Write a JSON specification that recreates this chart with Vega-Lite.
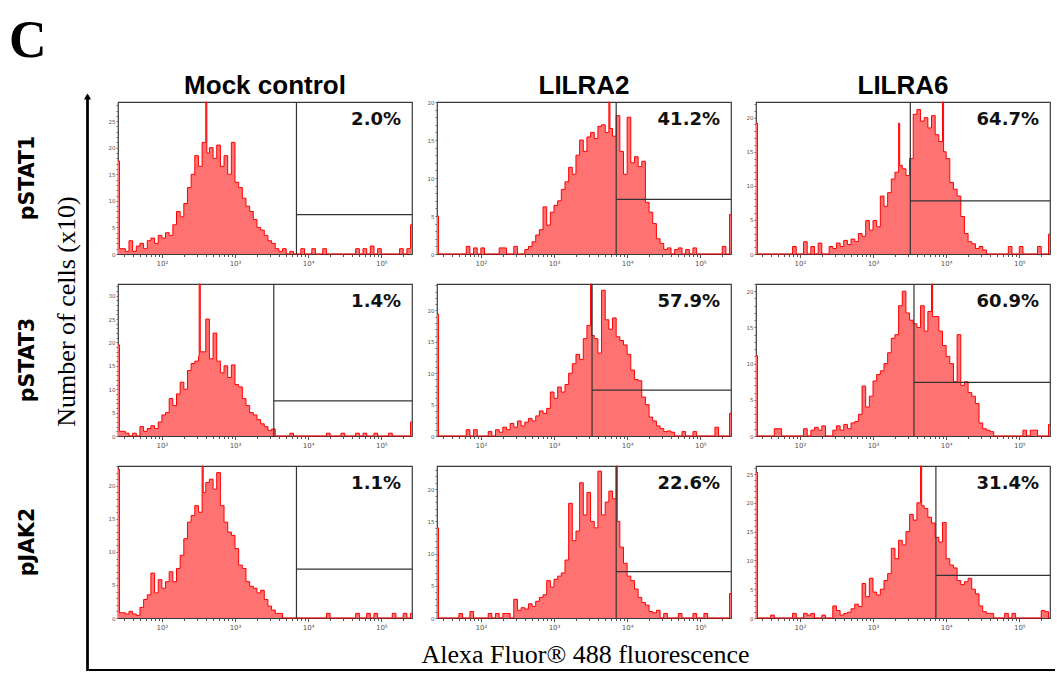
{
  "$schema": "https://vega.github.io/schema/vega-lite/v6.json",
  "background": "white",
  "padding": {"left": 9, "top": 15, "right": 1, "bottom": 1},
  "title": {"text": "C", "anchor": "start", "font": "Liberation Serif", "fontSize": 52, "fontWeight": "bold", "color": "black", "dx": -8, "offset": 5},
  "config": {
    "font": "DejaVu Sans",
    "view": {"stroke": "#3a3a3a", "strokeWidth": 1.2},
    "axis": {"grid": false, "domain": false}
  },
  "spacing": -4,
  "hconcat": [
    {
      "width": 1,
      "height": 569,
      "view": {"stroke": null},
      "data": {"values": [{"marker": "pSTAT1"}, {"marker": "pSTAT3"}, {"marker": "pJAK2"}]},
      "resolve": {"scale": {"y": "independent"}},
      "layer": [
        {
          "mark": {"type": "point", "opacity": 0},
          "encoding": {
            "y": {
              "field": "marker", "type": "nominal", "sort": ["pSTAT1", "pSTAT3", "pJAK2"],
              "scale": {"type": "band", "paddingInner": 0.165, "paddingOuter": 0.1456, "align": 0},
              "axis": {
                "orient": "left", "domain": false,
                "ticks": false, "tickSize": 0, "labelPadding": 60, "labelAngle": -90,
                "labelAlign": "center", "labelBaseline": "middle", "labelFont": "DejaVu Sans",
                "labelFontSize": 20.5, "labelFontWeight": "bold", "labelColor": "black",
                "title": "Number of cells (x10)", "titleFont": "Liberation Serif", "titleFontSize": 26,
                "titleFontWeight": "normal", "titleColor": "black", "titleX": -21, "titleY": 209,
                "titleAngle": -90, "titleAlign": "center", "titleBaseline": "middle"
              }
            }
          }
        },
        {
          "mark": {"type": "rule", "color": "black", "strokeWidth": 2, "clip": false},
          "encoding": {
            "y": {"datum": 1.0088, "type": "quantitative", "scale": {"domain": [0, 1], "nice": false}, "axis": null},
            "y2": {"datum": 0}
          }
        },
        {
          "mark": {"type": "point", "shape": "triangle-up", "filled": true, "color": "black", "size": 40, "opacity": 1, "clip": false},
          "encoding": {
            "y": {"datum": 1.0095, "type": "quantitative", "scale": {"domain": [0, 1], "nice": false}, "axis": null}
          }
        }
      ]
    },
    {
      "spacing": 9,
      "vconcat": [
        {
          "bounds": "flush",
          "spacing": {"row": 30, "column": 25},
          "data": {"values": [
            {"marker":"pSTAT1","group":"Mock control","log":1.40,"count":17.5},
            {"marker":"pSTAT1","group":"Mock control","log":1.42,"count":1},
            {"marker":"pSTAT1","group":"Mock control","log":1.50,"count":0.5},
            {"marker":"pSTAT1","group":"Mock control","log":1.55,"count":2.5},
            {"marker":"pSTAT1","group":"Mock control","log":1.60,"count":0.5},
            {"marker":"pSTAT1","group":"Mock control","log":1.65,"count":1.5},
            {"marker":"pSTAT1","group":"Mock control","log":1.70,"count":2},
            {"marker":"pSTAT1","group":"Mock control","log":1.75,"count":1},
            {"marker":"pSTAT1","group":"Mock control","log":1.80,"count":2.5},
            {"marker":"pSTAT1","group":"Mock control","log":1.85,"count":3},
            {"marker":"pSTAT1","group":"Mock control","log":1.90,"count":2},
            {"marker":"pSTAT1","group":"Mock control","log":1.95,"count":3.5},
            {"marker":"pSTAT1","group":"Mock control","log":2.00,"count":3},
            {"marker":"pSTAT1","group":"Mock control","log":2.05,"count":4},
            {"marker":"pSTAT1","group":"Mock control","log":2.10,"count":3.5},
            {"marker":"pSTAT1","group":"Mock control","log":2.15,"count":5.5},
            {"marker":"pSTAT1","group":"Mock control","log":2.20,"count":8},
            {"marker":"pSTAT1","group":"Mock control","log":2.25,"count":7},
            {"marker":"pSTAT1","group":"Mock control","log":2.30,"count":9.5},
            {"marker":"pSTAT1","group":"Mock control","log":2.35,"count":12.5},
            {"marker":"pSTAT1","group":"Mock control","log":2.40,"count":15},
            {"marker":"pSTAT1","group":"Mock control","log":2.45,"count":18.5},
            {"marker":"pSTAT1","group":"Mock control","log":2.50,"count":16.5},
            {"marker":"pSTAT1","group":"Mock control","log":2.55,"count":21},
            {"marker":"pSTAT1","group":"Mock control","log":2.60,"count":28.6},
            {"marker":"pSTAT1","group":"Mock control","log":2.615,"count":19},
            {"marker":"pSTAT1","group":"Mock control","log":2.65,"count":20},
            {"marker":"pSTAT1","group":"Mock control","log":2.70,"count":18},
            {"marker":"pSTAT1","group":"Mock control","log":2.75,"count":20.5},
            {"marker":"pSTAT1","group":"Mock control","log":2.80,"count":16.5},
            {"marker":"pSTAT1","group":"Mock control","log":2.85,"count":18.5},
            {"marker":"pSTAT1","group":"Mock control","log":2.90,"count":15},
            {"marker":"pSTAT1","group":"Mock control","log":2.95,"count":21},
            {"marker":"pSTAT1","group":"Mock control","log":3.00,"count":13.5},
            {"marker":"pSTAT1","group":"Mock control","log":3.05,"count":12.5},
            {"marker":"pSTAT1","group":"Mock control","log":3.10,"count":10.5},
            {"marker":"pSTAT1","group":"Mock control","log":3.15,"count":9},
            {"marker":"pSTAT1","group":"Mock control","log":3.20,"count":8},
            {"marker":"pSTAT1","group":"Mock control","log":3.25,"count":6.5},
            {"marker":"pSTAT1","group":"Mock control","log":3.30,"count":5},
            {"marker":"pSTAT1","group":"Mock control","log":3.35,"count":4.5},
            {"marker":"pSTAT1","group":"Mock control","log":3.40,"count":3.5},
            {"marker":"pSTAT1","group":"Mock control","log":3.45,"count":2.5},
            {"marker":"pSTAT1","group":"Mock control","log":3.50,"count":2},
            {"marker":"pSTAT1","group":"Mock control","log":3.55,"count":1},
            {"marker":"pSTAT1","group":"Mock control","log":3.60,"count":0.5},
            {"marker":"pSTAT1","group":"Mock control","log":3.65,"count":1},
            {"marker":"pSTAT1","group":"Mock control","log":3.70,"count":0},
            {"marker":"pSTAT1","group":"Mock control","log":3.75,"count":0.5},
            {"marker":"pSTAT1","group":"Mock control","log":3.80,"count":0},
            {"marker":"pSTAT1","group":"Mock control","log":3.90,"count":1},
            {"marker":"pSTAT1","group":"Mock control","log":3.95,"count":0},
            {"marker":"pSTAT1","group":"Mock control","log":4.05,"count":1},
            {"marker":"pSTAT1","group":"Mock control","log":4.10,"count":0},
            {"marker":"pSTAT1","group":"Mock control","log":4.20,"count":1},
            {"marker":"pSTAT1","group":"Mock control","log":4.25,"count":0},
            {"marker":"pSTAT1","group":"Mock control","log":4.65,"count":1},
            {"marker":"pSTAT1","group":"Mock control","log":4.70,"count":0},
            {"marker":"pSTAT1","group":"Mock control","log":4.75,"count":1},
            {"marker":"pSTAT1","group":"Mock control","log":4.80,"count":0},
            {"marker":"pSTAT1","group":"Mock control","log":4.85,"count":1.5},
            {"marker":"pSTAT1","group":"Mock control","log":4.90,"count":0},
            {"marker":"pSTAT1","group":"Mock control","log":4.95,"count":1},
            {"marker":"pSTAT1","group":"Mock control","log":5.00,"count":0},
            {"marker":"pSTAT1","group":"Mock control","log":5.25,"count":1},
            {"marker":"pSTAT1","group":"Mock control","log":5.30,"count":0},
            {"marker":"pSTAT1","group":"Mock control","log":5.35,"count":1},
            {"marker":"pSTAT1","group":"Mock control","log":5.40,"count":5.5},
            {"marker":"pSTAT1","group":"Mock control","log":5.42,"count":5.5},

            {"marker":"pSTAT1","group":"LILRA2","log":1.40,"count":5},
            {"marker":"pSTAT1","group":"LILRA2","log":1.42,"count":0},
            {"marker":"pSTAT1","group":"LILRA2","log":1.80,"count":1},
            {"marker":"pSTAT1","group":"LILRA2","log":1.85,"count":0},
            {"marker":"pSTAT1","group":"LILRA2","log":1.90,"count":0.8},
            {"marker":"pSTAT1","group":"LILRA2","log":1.95,"count":0},
            {"marker":"pSTAT1","group":"LILRA2","log":2.00,"count":0.8},
            {"marker":"pSTAT1","group":"LILRA2","log":2.05,"count":0},
            {"marker":"pSTAT1","group":"LILRA2","log":2.25,"count":0.8},
            {"marker":"pSTAT1","group":"LILRA2","log":2.30,"count":0.8},
            {"marker":"pSTAT1","group":"LILRA2","log":2.35,"count":0},
            {"marker":"pSTAT1","group":"LILRA2","log":2.45,"count":1},
            {"marker":"pSTAT1","group":"LILRA2","log":2.50,"count":0},
            {"marker":"pSTAT1","group":"LILRA2","log":2.60,"count":0.6},
            {"marker":"pSTAT1","group":"LILRA2","log":2.65,"count":1},
            {"marker":"pSTAT1","group":"LILRA2","log":2.70,"count":1.6},
            {"marker":"pSTAT1","group":"LILRA2","log":2.75,"count":2.5},
            {"marker":"pSTAT1","group":"LILRA2","log":2.80,"count":3.2},
            {"marker":"pSTAT1","group":"LILRA2","log":2.85,"count":6.2},
            {"marker":"pSTAT1","group":"LILRA2","log":2.90,"count":3.8},
            {"marker":"pSTAT1","group":"LILRA2","log":2.95,"count":5.5},
            {"marker":"pSTAT1","group":"LILRA2","log":3.00,"count":6.4},
            {"marker":"pSTAT1","group":"LILRA2","log":3.05,"count":7},
            {"marker":"pSTAT1","group":"LILRA2","log":3.10,"count":8.5},
            {"marker":"pSTAT1","group":"LILRA2","log":3.15,"count":9.5},
            {"marker":"pSTAT1","group":"LILRA2","log":3.20,"count":11.4},
            {"marker":"pSTAT1","group":"LILRA2","log":3.25,"count":10.5},
            {"marker":"pSTAT1","group":"LILRA2","log":3.30,"count":13},
            {"marker":"pSTAT1","group":"LILRA2","log":3.35,"count":15},
            {"marker":"pSTAT1","group":"LILRA2","log":3.40,"count":13.5},
            {"marker":"pSTAT1","group":"LILRA2","log":3.45,"count":15.4},
            {"marker":"pSTAT1","group":"LILRA2","log":3.50,"count":16},
            {"marker":"pSTAT1","group":"LILRA2","log":3.55,"count":15.2},
            {"marker":"pSTAT1","group":"LILRA2","log":3.60,"count":16.8},
            {"marker":"pSTAT1","group":"LILRA2","log":3.65,"count":17},
            {"marker":"pSTAT1","group":"LILRA2","log":3.70,"count":16},
            {"marker":"pSTAT1","group":"LILRA2","log":3.75,"count":20},
            {"marker":"pSTAT1","group":"LILRA2","log":3.765,"count":16.5},
            {"marker":"pSTAT1","group":"LILRA2","log":3.80,"count":15.5},
            {"marker":"pSTAT1","group":"LILRA2","log":3.85,"count":18.2},
            {"marker":"pSTAT1","group":"LILRA2","log":3.90,"count":13.5},
            {"marker":"pSTAT1","group":"LILRA2","log":3.95,"count":10.5},
            {"marker":"pSTAT1","group":"LILRA2","log":4.00,"count":18},
            {"marker":"pSTAT1","group":"LILRA2","log":4.05,"count":12},
            {"marker":"pSTAT1","group":"LILRA2","log":4.10,"count":12.8},
            {"marker":"pSTAT1","group":"LILRA2","log":4.15,"count":11.5},
            {"marker":"pSTAT1","group":"LILRA2","log":4.20,"count":12.2},
            {"marker":"pSTAT1","group":"LILRA2","log":4.25,"count":6.8},
            {"marker":"pSTAT1","group":"LILRA2","log":4.30,"count":5.5},
            {"marker":"pSTAT1","group":"LILRA2","log":4.35,"count":4},
            {"marker":"pSTAT1","group":"LILRA2","log":4.40,"count":2},
            {"marker":"pSTAT1","group":"LILRA2","log":4.45,"count":1.4},
            {"marker":"pSTAT1","group":"LILRA2","log":4.50,"count":0.6},
            {"marker":"pSTAT1","group":"LILRA2","log":4.55,"count":0.8},
            {"marker":"pSTAT1","group":"LILRA2","log":4.60,"count":0},
            {"marker":"pSTAT1","group":"LILRA2","log":4.65,"count":0.6},
            {"marker":"pSTAT1","group":"LILRA2","log":4.70,"count":0.8},
            {"marker":"pSTAT1","group":"LILRA2","log":4.75,"count":0},
            {"marker":"pSTAT1","group":"LILRA2","log":4.80,"count":0.6},
            {"marker":"pSTAT1","group":"LILRA2","log":4.85,"count":0},
            {"marker":"pSTAT1","group":"LILRA2","log":4.90,"count":0.8},
            {"marker":"pSTAT1","group":"LILRA2","log":4.95,"count":0},
            {"marker":"pSTAT1","group":"LILRA2","log":5.30,"count":1},
            {"marker":"pSTAT1","group":"LILRA2","log":5.35,"count":0},
            {"marker":"pSTAT1","group":"LILRA2","log":5.40,"count":5.2},
            {"marker":"pSTAT1","group":"LILRA2","log":5.42,"count":5.2},

            {"marker":"pSTAT1","group":"LILRA6","log":1.40,"count":19.2},
            {"marker":"pSTAT1","group":"LILRA6","log":1.42,"count":0},
            {"marker":"pSTAT1","group":"LILRA6","log":1.90,"count":1.1},
            {"marker":"pSTAT1","group":"LILRA6","log":1.95,"count":0},
            {"marker":"pSTAT1","group":"LILRA6","log":2.05,"count":1.8},
            {"marker":"pSTAT1","group":"LILRA6","log":2.10,"count":0},
            {"marker":"pSTAT1","group":"LILRA6","log":2.15,"count":1.1},
            {"marker":"pSTAT1","group":"LILRA6","log":2.20,"count":0},
            {"marker":"pSTAT1","group":"LILRA6","log":2.25,"count":1.6},
            {"marker":"pSTAT1","group":"LILRA6","log":2.30,"count":0},
            {"marker":"pSTAT1","group":"LILRA6","log":2.40,"count":1.1},
            {"marker":"pSTAT1","group":"LILRA6","log":2.45,"count":0.8},
            {"marker":"pSTAT1","group":"LILRA6","log":2.50,"count":1.6},
            {"marker":"pSTAT1","group":"LILRA6","log":2.55,"count":1.1},
            {"marker":"pSTAT1","group":"LILRA6","log":2.60,"count":2},
            {"marker":"pSTAT1","group":"LILRA6","log":2.65,"count":1.4},
            {"marker":"pSTAT1","group":"LILRA6","log":2.70,"count":2.2},
            {"marker":"pSTAT1","group":"LILRA6","log":2.75,"count":1.8},
            {"marker":"pSTAT1","group":"LILRA6","log":2.80,"count":3},
            {"marker":"pSTAT1","group":"LILRA6","log":2.85,"count":2.6},
            {"marker":"pSTAT1","group":"LILRA6","log":2.90,"count":4.9},
            {"marker":"pSTAT1","group":"LILRA6","log":2.95,"count":3.5},
            {"marker":"pSTAT1","group":"LILRA6","log":3.00,"count":4.9},
            {"marker":"pSTAT1","group":"LILRA6","log":3.05,"count":4},
            {"marker":"pSTAT1","group":"LILRA6","log":3.10,"count":8.5},
            {"marker":"pSTAT1","group":"LILRA6","log":3.15,"count":7},
            {"marker":"pSTAT1","group":"LILRA6","log":3.20,"count":9},
            {"marker":"pSTAT1","group":"LILRA6","log":3.25,"count":11},
            {"marker":"pSTAT1","group":"LILRA6","log":3.30,"count":12},
            {"marker":"pSTAT1","group":"LILRA6","log":3.35,"count":19.2},
            {"marker":"pSTAT1","group":"LILRA6","log":3.365,"count":13},
            {"marker":"pSTAT1","group":"LILRA6","log":3.40,"count":12.5},
            {"marker":"pSTAT1","group":"LILRA6","log":3.45,"count":11.5},
            {"marker":"pSTAT1","group":"LILRA6","log":3.50,"count":14},
            {"marker":"pSTAT1","group":"LILRA6","log":3.55,"count":20.5},
            {"marker":"pSTAT1","group":"LILRA6","log":3.60,"count":21.2},
            {"marker":"pSTAT1","group":"LILRA6","log":3.65,"count":19.5},
            {"marker":"pSTAT1","group":"LILRA6","log":3.70,"count":20},
            {"marker":"pSTAT1","group":"LILRA6","log":3.75,"count":18.5},
            {"marker":"pSTAT1","group":"LILRA6","log":3.80,"count":20.3},
            {"marker":"pSTAT1","group":"LILRA6","log":3.85,"count":17.5},
            {"marker":"pSTAT1","group":"LILRA6","log":3.90,"count":16.5},
            {"marker":"pSTAT1","group":"LILRA6","log":3.95,"count":22.3},
            {"marker":"pSTAT1","group":"LILRA6","log":3.965,"count":15},
            {"marker":"pSTAT1","group":"LILRA6","log":4.00,"count":14},
            {"marker":"pSTAT1","group":"LILRA6","log":4.05,"count":10.5},
            {"marker":"pSTAT1","group":"LILRA6","log":4.10,"count":9.5},
            {"marker":"pSTAT1","group":"LILRA6","log":4.15,"count":8.5},
            {"marker":"pSTAT1","group":"LILRA6","log":4.20,"count":5.5},
            {"marker":"pSTAT1","group":"LILRA6","log":4.25,"count":3},
            {"marker":"pSTAT1","group":"LILRA6","log":4.30,"count":1.8},
            {"marker":"pSTAT1","group":"LILRA6","log":4.35,"count":1.5},
            {"marker":"pSTAT1","group":"LILRA6","log":4.40,"count":0.8},
            {"marker":"pSTAT1","group":"LILRA6","log":4.45,"count":1.1},
            {"marker":"pSTAT1","group":"LILRA6","log":4.50,"count":0.6},
            {"marker":"pSTAT1","group":"LILRA6","log":4.55,"count":0},
            {"marker":"pSTAT1","group":"LILRA6","log":4.85,"count":1.1},
            {"marker":"pSTAT1","group":"LILRA6","log":4.90,"count":0},
            {"marker":"pSTAT1","group":"LILRA6","log":5.00,"count":1.1},
            {"marker":"pSTAT1","group":"LILRA6","log":5.05,"count":0},
            {"marker":"pSTAT1","group":"LILRA6","log":5.25,"count":1.1},
            {"marker":"pSTAT1","group":"LILRA6","log":5.30,"count":0},
            {"marker":"pSTAT1","group":"LILRA6","log":5.40,"count":2.9},
            {"marker":"pSTAT1","group":"LILRA6","log":5.42,"count":2.9},

            {"marker":"pSTAT3","group":"Mock control","log":1.40,"count":19.5},
            {"marker":"pSTAT3","group":"Mock control","log":1.42,"count":1},
            {"marker":"pSTAT3","group":"Mock control","log":1.50,"count":0.6},
            {"marker":"pSTAT3","group":"Mock control","log":1.55,"count":0},
            {"marker":"pSTAT3","group":"Mock control","log":1.60,"count":0.6},
            {"marker":"pSTAT3","group":"Mock control","log":1.65,"count":0},
            {"marker":"pSTAT3","group":"Mock control","log":1.70,"count":2},
            {"marker":"pSTAT3","group":"Mock control","log":1.75,"count":1},
            {"marker":"pSTAT3","group":"Mock control","log":1.80,"count":1.6},
            {"marker":"pSTAT3","group":"Mock control","log":1.85,"count":2.2},
            {"marker":"pSTAT3","group":"Mock control","log":1.90,"count":1.6},
            {"marker":"pSTAT3","group":"Mock control","log":1.95,"count":3},
            {"marker":"pSTAT3","group":"Mock control","log":2.00,"count":4.5},
            {"marker":"pSTAT3","group":"Mock control","log":2.05,"count":5},
            {"marker":"pSTAT3","group":"Mock control","log":2.10,"count":8},
            {"marker":"pSTAT3","group":"Mock control","log":2.15,"count":6.5},
            {"marker":"pSTAT3","group":"Mock control","log":2.20,"count":9},
            {"marker":"pSTAT3","group":"Mock control","log":2.25,"count":11.5},
            {"marker":"pSTAT3","group":"Mock control","log":2.30,"count":10},
            {"marker":"pSTAT3","group":"Mock control","log":2.35,"count":14},
            {"marker":"pSTAT3","group":"Mock control","log":2.40,"count":15.5},
            {"marker":"pSTAT3","group":"Mock control","log":2.45,"count":16},
            {"marker":"pSTAT3","group":"Mock control","log":2.50,"count":17},
            {"marker":"pSTAT3","group":"Mock control","log":2.51,"count":32.5},
            {"marker":"pSTAT3","group":"Mock control","log":2.525,"count":18},
            {"marker":"pSTAT3","group":"Mock control","log":2.60,"count":25},
            {"marker":"pSTAT3","group":"Mock control","log":2.65,"count":16.5},
            {"marker":"pSTAT3","group":"Mock control","log":2.70,"count":22},
            {"marker":"pSTAT3","group":"Mock control","log":2.75,"count":16},
            {"marker":"pSTAT3","group":"Mock control","log":2.80,"count":13.5},
            {"marker":"pSTAT3","group":"Mock control","log":2.85,"count":15},
            {"marker":"pSTAT3","group":"Mock control","log":2.90,"count":12.5},
            {"marker":"pSTAT3","group":"Mock control","log":2.95,"count":15.2},
            {"marker":"pSTAT3","group":"Mock control","log":3.00,"count":11},
            {"marker":"pSTAT3","group":"Mock control","log":3.05,"count":10.5},
            {"marker":"pSTAT3","group":"Mock control","log":3.10,"count":8},
            {"marker":"pSTAT3","group":"Mock control","log":3.15,"count":6.5},
            {"marker":"pSTAT3","group":"Mock control","log":3.20,"count":5},
            {"marker":"pSTAT3","group":"Mock control","log":3.25,"count":4.5},
            {"marker":"pSTAT3","group":"Mock control","log":3.30,"count":3.5},
            {"marker":"pSTAT3","group":"Mock control","log":3.35,"count":2.6},
            {"marker":"pSTAT3","group":"Mock control","log":3.40,"count":2},
            {"marker":"pSTAT3","group":"Mock control","log":3.45,"count":1.2},
            {"marker":"pSTAT3","group":"Mock control","log":3.50,"count":1.5},
            {"marker":"pSTAT3","group":"Mock control","log":3.55,"count":0},
            {"marker":"pSTAT3","group":"Mock control","log":3.75,"count":0.6},
            {"marker":"pSTAT3","group":"Mock control","log":3.80,"count":0},
            {"marker":"pSTAT3","group":"Mock control","log":4.25,"count":0.6},
            {"marker":"pSTAT3","group":"Mock control","log":4.30,"count":0},
            {"marker":"pSTAT3","group":"Mock control","log":4.45,"count":0.6},
            {"marker":"pSTAT3","group":"Mock control","log":4.50,"count":0},
            {"marker":"pSTAT3","group":"Mock control","log":4.65,"count":0.6},
            {"marker":"pSTAT3","group":"Mock control","log":4.70,"count":0},
            {"marker":"pSTAT3","group":"Mock control","log":4.75,"count":0.6},
            {"marker":"pSTAT3","group":"Mock control","log":4.80,"count":0},
            {"marker":"pSTAT3","group":"Mock control","log":4.90,"count":0.6},
            {"marker":"pSTAT3","group":"Mock control","log":4.95,"count":0},
            {"marker":"pSTAT3","group":"Mock control","log":5.10,"count":0.6},
            {"marker":"pSTAT3","group":"Mock control","log":5.15,"count":0},
            {"marker":"pSTAT3","group":"Mock control","log":5.40,"count":3},
            {"marker":"pSTAT3","group":"Mock control","log":5.42,"count":3},

            {"marker":"pSTAT3","group":"LILRA2","log":1.40,"count":19.4},
            {"marker":"pSTAT3","group":"LILRA2","log":1.42,"count":0},
            {"marker":"pSTAT3","group":"LILRA2","log":1.80,"count":1},
            {"marker":"pSTAT3","group":"LILRA2","log":1.85,"count":0},
            {"marker":"pSTAT3","group":"LILRA2","log":1.90,"count":1},
            {"marker":"pSTAT3","group":"LILRA2","log":1.95,"count":0},
            {"marker":"pSTAT3","group":"LILRA2","log":2.10,"count":0.7},
            {"marker":"pSTAT3","group":"LILRA2","log":2.15,"count":0},
            {"marker":"pSTAT3","group":"LILRA2","log":2.20,"count":1},
            {"marker":"pSTAT3","group":"LILRA2","log":2.25,"count":0.6},
            {"marker":"pSTAT3","group":"LILRA2","log":2.30,"count":1.4},
            {"marker":"pSTAT3","group":"LILRA2","log":2.35,"count":1},
            {"marker":"pSTAT3","group":"LILRA2","log":2.40,"count":2},
            {"marker":"pSTAT3","group":"LILRA2","log":2.45,"count":1.4},
            {"marker":"pSTAT3","group":"LILRA2","log":2.50,"count":2.4},
            {"marker":"pSTAT3","group":"LILRA2","log":2.55,"count":1.6},
            {"marker":"pSTAT3","group":"LILRA2","log":2.60,"count":2.2},
            {"marker":"pSTAT3","group":"LILRA2","log":2.65,"count":2.8},
            {"marker":"pSTAT3","group":"LILRA2","log":2.70,"count":2.4},
            {"marker":"pSTAT3","group":"LILRA2","log":2.75,"count":3.2},
            {"marker":"pSTAT3","group":"LILRA2","log":2.80,"count":4},
            {"marker":"pSTAT3","group":"LILRA2","log":2.85,"count":3.6},
            {"marker":"pSTAT3","group":"LILRA2","log":2.90,"count":4.4},
            {"marker":"pSTAT3","group":"LILRA2","log":2.95,"count":7},
            {"marker":"pSTAT3","group":"LILRA2","log":3.00,"count":6},
            {"marker":"pSTAT3","group":"LILRA2","log":3.05,"count":7.8},
            {"marker":"pSTAT3","group":"LILRA2","log":3.10,"count":7},
            {"marker":"pSTAT3","group":"LILRA2","log":3.15,"count":8.2},
            {"marker":"pSTAT3","group":"LILRA2","log":3.20,"count":10},
            {"marker":"pSTAT3","group":"LILRA2","log":3.25,"count":11.5},
            {"marker":"pSTAT3","group":"LILRA2","log":3.30,"count":13},
            {"marker":"pSTAT3","group":"LILRA2","log":3.35,"count":12.2},
            {"marker":"pSTAT3","group":"LILRA2","log":3.40,"count":15.5},
            {"marker":"pSTAT3","group":"LILRA2","log":3.45,"count":17.6},
            {"marker":"pSTAT3","group":"LILRA2","log":3.50,"count":24.2},
            {"marker":"pSTAT3","group":"LILRA2","log":3.515,"count":16},
            {"marker":"pSTAT3","group":"LILRA2","log":3.55,"count":15.5},
            {"marker":"pSTAT3","group":"LILRA2","log":3.60,"count":13.2},
            {"marker":"pSTAT3","group":"LILRA2","log":3.65,"count":23.2},
            {"marker":"pSTAT3","group":"LILRA2","log":3.70,"count":18.5},
            {"marker":"pSTAT3","group":"LILRA2","log":3.75,"count":17},
            {"marker":"pSTAT3","group":"LILRA2","log":3.80,"count":18.8},
            {"marker":"pSTAT3","group":"LILRA2","log":3.85,"count":15.8},
            {"marker":"pSTAT3","group":"LILRA2","log":3.90,"count":15.2},
            {"marker":"pSTAT3","group":"LILRA2","log":3.95,"count":14.5},
            {"marker":"pSTAT3","group":"LILRA2","log":4.00,"count":13},
            {"marker":"pSTAT3","group":"LILRA2","log":4.05,"count":10.5},
            {"marker":"pSTAT3","group":"LILRA2","log":4.10,"count":9},
            {"marker":"pSTAT3","group":"LILRA2","log":4.15,"count":8.8},
            {"marker":"pSTAT3","group":"LILRA2","log":4.20,"count":6.2},
            {"marker":"pSTAT3","group":"LILRA2","log":4.25,"count":5},
            {"marker":"pSTAT3","group":"LILRA2","log":4.30,"count":3},
            {"marker":"pSTAT3","group":"LILRA2","log":4.35,"count":2.4},
            {"marker":"pSTAT3","group":"LILRA2","log":4.40,"count":1.6},
            {"marker":"pSTAT3","group":"LILRA2","log":4.45,"count":1.2},
            {"marker":"pSTAT3","group":"LILRA2","log":4.50,"count":0.7},
            {"marker":"pSTAT3","group":"LILRA2","log":4.55,"count":0.8},
            {"marker":"pSTAT3","group":"LILRA2","log":4.60,"count":0.6},
            {"marker":"pSTAT3","group":"LILRA2","log":4.65,"count":0},
            {"marker":"pSTAT3","group":"LILRA2","log":4.75,"count":0.7},
            {"marker":"pSTAT3","group":"LILRA2","log":4.80,"count":0},
            {"marker":"pSTAT3","group":"LILRA2","log":4.90,"count":0.7},
            {"marker":"pSTAT3","group":"LILRA2","log":4.95,"count":0},
            {"marker":"pSTAT3","group":"LILRA2","log":5.20,"count":1.4},
            {"marker":"pSTAT3","group":"LILRA2","log":5.25,"count":0},
            {"marker":"pSTAT3","group":"LILRA2","log":5.40,"count":3.6},
            {"marker":"pSTAT3","group":"LILRA2","log":5.42,"count":3.6},

            {"marker":"pSTAT3","group":"LILRA6","log":1.40,"count":11.1},
            {"marker":"pSTAT3","group":"LILRA6","log":1.42,"count":0},
            {"marker":"pSTAT3","group":"LILRA6","log":1.65,"count":1},
            {"marker":"pSTAT3","group":"LILRA6","log":1.70,"count":1},
            {"marker":"pSTAT3","group":"LILRA6","log":1.75,"count":0},
            {"marker":"pSTAT3","group":"LILRA6","log":2.05,"count":1},
            {"marker":"pSTAT3","group":"LILRA6","log":2.10,"count":0},
            {"marker":"pSTAT3","group":"LILRA6","log":2.15,"count":0.8},
            {"marker":"pSTAT3","group":"LILRA6","log":2.20,"count":1.2},
            {"marker":"pSTAT3","group":"LILRA6","log":2.25,"count":0.8},
            {"marker":"pSTAT3","group":"LILRA6","log":2.30,"count":1.4},
            {"marker":"pSTAT3","group":"LILRA6","log":2.35,"count":0},
            {"marker":"pSTAT3","group":"LILRA6","log":2.45,"count":0.8},
            {"marker":"pSTAT3","group":"LILRA6","log":2.50,"count":1.4},
            {"marker":"pSTAT3","group":"LILRA6","log":2.55,"count":0.8},
            {"marker":"pSTAT3","group":"LILRA6","log":2.60,"count":1.6},
            {"marker":"pSTAT3","group":"LILRA6","log":2.65,"count":1},
            {"marker":"pSTAT3","group":"LILRA6","log":2.70,"count":1.8},
            {"marker":"pSTAT3","group":"LILRA6","log":2.75,"count":2},
            {"marker":"pSTAT3","group":"LILRA6","log":2.80,"count":3},
            {"marker":"pSTAT3","group":"LILRA6","log":2.85,"count":6.9},
            {"marker":"pSTAT3","group":"LILRA6","log":2.90,"count":4},
            {"marker":"pSTAT3","group":"LILRA6","log":2.95,"count":5.5},
            {"marker":"pSTAT3","group":"LILRA6","log":3.00,"count":7.6},
            {"marker":"pSTAT3","group":"LILRA6","log":3.05,"count":8.5},
            {"marker":"pSTAT3","group":"LILRA6","log":3.10,"count":9},
            {"marker":"pSTAT3","group":"LILRA6","log":3.15,"count":10},
            {"marker":"pSTAT3","group":"LILRA6","log":3.20,"count":11.5},
            {"marker":"pSTAT3","group":"LILRA6","log":3.25,"count":13.5},
            {"marker":"pSTAT3","group":"LILRA6","log":3.30,"count":14},
            {"marker":"pSTAT3","group":"LILRA6","log":3.35,"count":18},
            {"marker":"pSTAT3","group":"LILRA6","log":3.40,"count":20},
            {"marker":"pSTAT3","group":"LILRA6","log":3.45,"count":17},
            {"marker":"pSTAT3","group":"LILRA6","log":3.50,"count":16},
            {"marker":"pSTAT3","group":"LILRA6","log":3.55,"count":15.5},
            {"marker":"pSTAT3","group":"LILRA6","log":3.60,"count":15},
            {"marker":"pSTAT3","group":"LILRA6","log":3.65,"count":18},
            {"marker":"pSTAT3","group":"LILRA6","log":3.70,"count":14.5},
            {"marker":"pSTAT3","group":"LILRA6","log":3.75,"count":17.2},
            {"marker":"pSTAT3","group":"LILRA6","log":3.80,"count":21},
            {"marker":"pSTAT3","group":"LILRA6","log":3.815,"count":16.5},
            {"marker":"pSTAT3","group":"LILRA6","log":3.85,"count":16.5},
            {"marker":"pSTAT3","group":"LILRA6","log":3.90,"count":14.5},
            {"marker":"pSTAT3","group":"LILRA6","log":3.95,"count":12.5},
            {"marker":"pSTAT3","group":"LILRA6","log":4.00,"count":11},
            {"marker":"pSTAT3","group":"LILRA6","log":4.05,"count":10},
            {"marker":"pSTAT3","group":"LILRA6","log":4.10,"count":7.5},
            {"marker":"pSTAT3","group":"LILRA6","log":4.15,"count":14},
            {"marker":"pSTAT3","group":"LILRA6","log":4.20,"count":7},
            {"marker":"pSTAT3","group":"LILRA6","log":4.25,"count":7.5},
            {"marker":"pSTAT3","group":"LILRA6","log":4.30,"count":6},
            {"marker":"pSTAT3","group":"LILRA6","log":4.35,"count":5.5},
            {"marker":"pSTAT3","group":"LILRA6","log":4.40,"count":4.5},
            {"marker":"pSTAT3","group":"LILRA6","log":4.45,"count":1.8},
            {"marker":"pSTAT3","group":"LILRA6","log":4.50,"count":1},
            {"marker":"pSTAT3","group":"LILRA6","log":4.55,"count":0.8},
            {"marker":"pSTAT3","group":"LILRA6","log":4.60,"count":0.6},
            {"marker":"pSTAT3","group":"LILRA6","log":4.65,"count":0},
            {"marker":"pSTAT3","group":"LILRA6","log":5.05,"count":0.8},
            {"marker":"pSTAT3","group":"LILRA6","log":5.10,"count":0},
            {"marker":"pSTAT3","group":"LILRA6","log":5.15,"count":0.8},
            {"marker":"pSTAT3","group":"LILRA6","log":5.20,"count":0.8},
            {"marker":"pSTAT3","group":"LILRA6","log":5.25,"count":0},
            {"marker":"pSTAT3","group":"LILRA6","log":5.40,"count":1.6},
            {"marker":"pSTAT3","group":"LILRA6","log":5.42,"count":1.6},

            {"marker":"pJAK2","group":"Mock control","log":1.40,"count":22.5},
            {"marker":"pJAK2","group":"Mock control","log":1.42,"count":0.8},
            {"marker":"pJAK2","group":"Mock control","log":1.50,"count":0.6},
            {"marker":"pJAK2","group":"Mock control","log":1.55,"count":1},
            {"marker":"pJAK2","group":"Mock control","log":1.60,"count":0.6},
            {"marker":"pJAK2","group":"Mock control","log":1.65,"count":0.4},
            {"marker":"pJAK2","group":"Mock control","log":1.70,"count":1.6},
            {"marker":"pJAK2","group":"Mock control","log":1.75,"count":2.8},
            {"marker":"pJAK2","group":"Mock control","log":1.80,"count":3.5},
            {"marker":"pJAK2","group":"Mock control","log":1.85,"count":6.8},
            {"marker":"pJAK2","group":"Mock control","log":1.90,"count":3.8},
            {"marker":"pJAK2","group":"Mock control","log":1.95,"count":5.8},
            {"marker":"pJAK2","group":"Mock control","log":2.00,"count":4.5},
            {"marker":"pJAK2","group":"Mock control","log":2.05,"count":5.5},
            {"marker":"pJAK2","group":"Mock control","log":2.10,"count":7},
            {"marker":"pJAK2","group":"Mock control","log":2.15,"count":5.5},
            {"marker":"pJAK2","group":"Mock control","log":2.20,"count":7.5},
            {"marker":"pJAK2","group":"Mock control","log":2.25,"count":9.5},
            {"marker":"pJAK2","group":"Mock control","log":2.30,"count":12},
            {"marker":"pJAK2","group":"Mock control","log":2.35,"count":14.5},
            {"marker":"pJAK2","group":"Mock control","log":2.40,"count":15.5},
            {"marker":"pJAK2","group":"Mock control","log":2.45,"count":17},
            {"marker":"pJAK2","group":"Mock control","log":2.50,"count":16},
            {"marker":"pJAK2","group":"Mock control","log":2.55,"count":23},
            {"marker":"pJAK2","group":"Mock control","log":2.565,"count":19},
            {"marker":"pJAK2","group":"Mock control","log":2.60,"count":20.5},
            {"marker":"pJAK2","group":"Mock control","log":2.65,"count":21},
            {"marker":"pJAK2","group":"Mock control","log":2.70,"count":19.5},
            {"marker":"pJAK2","group":"Mock control","log":2.75,"count":22},
            {"marker":"pJAK2","group":"Mock control","log":2.80,"count":17},
            {"marker":"pJAK2","group":"Mock control","log":2.85,"count":14.5},
            {"marker":"pJAK2","group":"Mock control","log":2.90,"count":13},
            {"marker":"pJAK2","group":"Mock control","log":2.95,"count":12.5},
            {"marker":"pJAK2","group":"Mock control","log":3.00,"count":10.5},
            {"marker":"pJAK2","group":"Mock control","log":3.05,"count":8},
            {"marker":"pJAK2","group":"Mock control","log":3.10,"count":7.5},
            {"marker":"pJAK2","group":"Mock control","log":3.15,"count":5.5},
            {"marker":"pJAK2","group":"Mock control","log":3.20,"count":4.8},
            {"marker":"pJAK2","group":"Mock control","log":3.25,"count":4.5},
            {"marker":"pJAK2","group":"Mock control","log":3.30,"count":3.8},
            {"marker":"pJAK2","group":"Mock control","log":3.35,"count":4.2},
            {"marker":"pJAK2","group":"Mock control","log":3.40,"count":2.8},
            {"marker":"pJAK2","group":"Mock control","log":3.45,"count":1.8},
            {"marker":"pJAK2","group":"Mock control","log":3.50,"count":1.2},
            {"marker":"pJAK2","group":"Mock control","log":3.55,"count":0.7},
            {"marker":"pJAK2","group":"Mock control","log":3.60,"count":0.7},
            {"marker":"pJAK2","group":"Mock control","log":3.65,"count":0},
            {"marker":"pJAK2","group":"Mock control","log":4.25,"count":0.7},
            {"marker":"pJAK2","group":"Mock control","log":4.30,"count":0},
            {"marker":"pJAK2","group":"Mock control","log":4.65,"count":0.7},
            {"marker":"pJAK2","group":"Mock control","log":4.70,"count":0},
            {"marker":"pJAK2","group":"Mock control","log":4.80,"count":0.7},
            {"marker":"pJAK2","group":"Mock control","log":4.85,"count":0},
            {"marker":"pJAK2","group":"Mock control","log":4.90,"count":0.7},
            {"marker":"pJAK2","group":"Mock control","log":4.95,"count":0},
            {"marker":"pJAK2","group":"Mock control","log":5.15,"count":0.7},
            {"marker":"pJAK2","group":"Mock control","log":5.20,"count":0},
            {"marker":"pJAK2","group":"Mock control","log":5.30,"count":0.7},
            {"marker":"pJAK2","group":"Mock control","log":5.35,"count":0},
            {"marker":"pJAK2","group":"Mock control","log":5.40,"count":0.7},
            {"marker":"pJAK2","group":"Mock control","log":5.42,"count":0.7},

            {"marker":"pJAK2","group":"LILRA2","log":1.40,"count":14},
            {"marker":"pJAK2","group":"LILRA2","log":1.42,"count":0},
            {"marker":"pJAK2","group":"LILRA2","log":1.70,"count":0.7},
            {"marker":"pJAK2","group":"LILRA2","log":1.75,"count":0},
            {"marker":"pJAK2","group":"LILRA2","log":1.85,"count":1},
            {"marker":"pJAK2","group":"LILRA2","log":1.90,"count":0},
            {"marker":"pJAK2","group":"LILRA2","log":2.10,"count":0.7},
            {"marker":"pJAK2","group":"LILRA2","log":2.15,"count":0},
            {"marker":"pJAK2","group":"LILRA2","log":2.20,"count":0.7},
            {"marker":"pJAK2","group":"LILRA2","log":2.25,"count":0},
            {"marker":"pJAK2","group":"LILRA2","log":2.30,"count":0.7},
            {"marker":"pJAK2","group":"LILRA2","log":2.35,"count":0.7},
            {"marker":"pJAK2","group":"LILRA2","log":2.40,"count":0},
            {"marker":"pJAK2","group":"LILRA2","log":2.45,"count":2.9},
            {"marker":"pJAK2","group":"LILRA2","log":2.50,"count":1.2},
            {"marker":"pJAK2","group":"LILRA2","log":2.55,"count":1.6},
            {"marker":"pJAK2","group":"LILRA2","log":2.60,"count":1.4},
            {"marker":"pJAK2","group":"LILRA2","log":2.65,"count":2.2},
            {"marker":"pJAK2","group":"LILRA2","log":2.70,"count":1.8},
            {"marker":"pJAK2","group":"LILRA2","log":2.75,"count":2.6},
            {"marker":"pJAK2","group":"LILRA2","log":2.80,"count":3.2},
            {"marker":"pJAK2","group":"LILRA2","log":2.85,"count":3.6},
            {"marker":"pJAK2","group":"LILRA2","log":2.90,"count":5.8},
            {"marker":"pJAK2","group":"LILRA2","log":2.95,"count":4.8},
            {"marker":"pJAK2","group":"LILRA2","log":3.00,"count":6},
            {"marker":"pJAK2","group":"LILRA2","log":3.05,"count":6.5},
            {"marker":"pJAK2","group":"LILRA2","log":3.10,"count":7},
            {"marker":"pJAK2","group":"LILRA2","log":3.15,"count":9},
            {"marker":"pJAK2","group":"LILRA2","log":3.20,"count":17.8},
            {"marker":"pJAK2","group":"LILRA2","log":3.25,"count":12},
            {"marker":"pJAK2","group":"LILRA2","log":3.30,"count":13.5},
            {"marker":"pJAK2","group":"LILRA2","log":3.35,"count":21},
            {"marker":"pJAK2","group":"LILRA2","log":3.40,"count":16},
            {"marker":"pJAK2","group":"LILRA2","log":3.45,"count":19.5},
            {"marker":"pJAK2","group":"LILRA2","log":3.50,"count":15},
            {"marker":"pJAK2","group":"LILRA2","log":3.55,"count":14},
            {"marker":"pJAK2","group":"LILRA2","log":3.60,"count":22.8},
            {"marker":"pJAK2","group":"LILRA2","log":3.65,"count":16},
            {"marker":"pJAK2","group":"LILRA2","log":3.70,"count":18},
            {"marker":"pJAK2","group":"LILRA2","log":3.75,"count":19.7},
            {"marker":"pJAK2","group":"LILRA2","log":3.80,"count":18.5},
            {"marker":"pJAK2","group":"LILRA2","log":3.85,"count":23.6},
            {"marker":"pJAK2","group":"LILRA2","log":3.865,"count":15},
            {"marker":"pJAK2","group":"LILRA2","log":3.90,"count":11},
            {"marker":"pJAK2","group":"LILRA2","log":3.95,"count":8.5},
            {"marker":"pJAK2","group":"LILRA2","log":4.00,"count":6.5},
            {"marker":"pJAK2","group":"LILRA2","log":4.05,"count":5.8},
            {"marker":"pJAK2","group":"LILRA2","log":4.10,"count":4.5},
            {"marker":"pJAK2","group":"LILRA2","log":4.15,"count":3.2},
            {"marker":"pJAK2","group":"LILRA2","log":4.20,"count":2.4},
            {"marker":"pJAK2","group":"LILRA2","log":4.25,"count":2},
            {"marker":"pJAK2","group":"LILRA2","log":4.30,"count":1},
            {"marker":"pJAK2","group":"LILRA2","log":4.35,"count":0.8},
            {"marker":"pJAK2","group":"LILRA2","log":4.40,"count":1.2},
            {"marker":"pJAK2","group":"LILRA2","log":4.45,"count":0},
            {"marker":"pJAK2","group":"LILRA2","log":4.50,"count":0.7},
            {"marker":"pJAK2","group":"LILRA2","log":4.55,"count":0},
            {"marker":"pJAK2","group":"LILRA2","log":4.70,"count":0.7},
            {"marker":"pJAK2","group":"LILRA2","log":4.75,"count":0},
            {"marker":"pJAK2","group":"LILRA2","log":4.90,"count":0.7},
            {"marker":"pJAK2","group":"LILRA2","log":4.95,"count":0},
            {"marker":"pJAK2","group":"LILRA2","log":5.05,"count":0.7},
            {"marker":"pJAK2","group":"LILRA2","log":5.10,"count":0},
            {"marker":"pJAK2","group":"LILRA2","log":5.40,"count":3.8},
            {"marker":"pJAK2","group":"LILRA2","log":5.42,"count":3.8},

            {"marker":"pJAK2","group":"LILRA6","log":1.40,"count":25.3},
            {"marker":"pJAK2","group":"LILRA6","log":1.42,"count":0},
            {"marker":"pJAK2","group":"LILRA6","log":1.60,"count":0.5},
            {"marker":"pJAK2","group":"LILRA6","log":1.65,"count":0},
            {"marker":"pJAK2","group":"LILRA6","log":1.90,"count":0.8},
            {"marker":"pJAK2","group":"LILRA6","log":1.95,"count":0},
            {"marker":"pJAK2","group":"LILRA6","log":2.05,"count":0.8},
            {"marker":"pJAK2","group":"LILRA6","log":2.10,"count":0.5},
            {"marker":"pJAK2","group":"LILRA6","log":2.15,"count":0.8},
            {"marker":"pJAK2","group":"LILRA6","log":2.20,"count":0},
            {"marker":"pJAK2","group":"LILRA6","log":2.30,"count":0.5},
            {"marker":"pJAK2","group":"LILRA6","log":2.35,"count":0},
            {"marker":"pJAK2","group":"LILRA6","log":2.45,"count":2.1},
            {"marker":"pJAK2","group":"LILRA6","log":2.50,"count":1.3},
            {"marker":"pJAK2","group":"LILRA6","log":2.55,"count":0.5},
            {"marker":"pJAK2","group":"LILRA6","log":2.60,"count":0.8},
            {"marker":"pJAK2","group":"LILRA6","log":2.65,"count":1},
            {"marker":"pJAK2","group":"LILRA6","log":2.70,"count":1.6},
            {"marker":"pJAK2","group":"LILRA6","log":2.75,"count":2.4},
            {"marker":"pJAK2","group":"LILRA6","log":2.80,"count":2},
            {"marker":"pJAK2","group":"LILRA6","log":2.85,"count":6},
            {"marker":"pJAK2","group":"LILRA6","log":2.90,"count":3.7},
            {"marker":"pJAK2","group":"LILRA6","log":2.95,"count":6.9},
            {"marker":"pJAK2","group":"LILRA6","log":3.00,"count":4.5},
            {"marker":"pJAK2","group":"LILRA6","log":3.05,"count":4},
            {"marker":"pJAK2","group":"LILRA6","log":3.10,"count":5},
            {"marker":"pJAK2","group":"LILRA6","log":3.15,"count":6.5},
            {"marker":"pJAK2","group":"LILRA6","log":3.20,"count":7.7},
            {"marker":"pJAK2","group":"LILRA6","log":3.25,"count":12.1},
            {"marker":"pJAK2","group":"LILRA6","log":3.30,"count":10.3},
            {"marker":"pJAK2","group":"LILRA6","log":3.35,"count":13.5},
            {"marker":"pJAK2","group":"LILRA6","log":3.40,"count":12.7},
            {"marker":"pJAK2","group":"LILRA6","log":3.45,"count":15},
            {"marker":"pJAK2","group":"LILRA6","log":3.50,"count":18},
            {"marker":"pJAK2","group":"LILRA6","log":3.55,"count":17},
            {"marker":"pJAK2","group":"LILRA6","log":3.60,"count":20},
            {"marker":"pJAK2","group":"LILRA6","log":3.65,"count":26.4},
            {"marker":"pJAK2","group":"LILRA6","log":3.665,"count":19.5},
            {"marker":"pJAK2","group":"LILRA6","log":3.70,"count":19},
            {"marker":"pJAK2","group":"LILRA6","log":3.75,"count":17.5},
            {"marker":"pJAK2","group":"LILRA6","log":3.80,"count":16.5},
            {"marker":"pJAK2","group":"LILRA6","log":3.85,"count":14},
            {"marker":"pJAK2","group":"LILRA6","log":3.90,"count":13.2},
            {"marker":"pJAK2","group":"LILRA6","log":3.95,"count":16.6},
            {"marker":"pJAK2","group":"LILRA6","log":4.00,"count":10.3},
            {"marker":"pJAK2","group":"LILRA6","log":4.05,"count":9.2},
            {"marker":"pJAK2","group":"LILRA6","log":4.10,"count":8.7},
            {"marker":"pJAK2","group":"LILRA6","log":4.15,"count":6.5},
            {"marker":"pJAK2","group":"LILRA6","log":4.20,"count":5.8},
            {"marker":"pJAK2","group":"LILRA6","log":4.25,"count":6.3},
            {"marker":"pJAK2","group":"LILRA6","log":4.30,"count":6.9},
            {"marker":"pJAK2","group":"LILRA6","log":4.35,"count":5},
            {"marker":"pJAK2","group":"LILRA6","log":4.40,"count":4.2},
            {"marker":"pJAK2","group":"LILRA6","log":4.45,"count":2.1},
            {"marker":"pJAK2","group":"LILRA6","log":4.50,"count":1.1},
            {"marker":"pJAK2","group":"LILRA6","log":4.55,"count":0.8},
            {"marker":"pJAK2","group":"LILRA6","log":4.60,"count":0.8},
            {"marker":"pJAK2","group":"LILRA6","log":4.65,"count":0},
            {"marker":"pJAK2","group":"LILRA6","log":4.80,"count":0.8},
            {"marker":"pJAK2","group":"LILRA6","log":4.85,"count":0},
            {"marker":"pJAK2","group":"LILRA6","log":4.90,"count":0.8},
            {"marker":"pJAK2","group":"LILRA6","log":4.95,"count":0},
            {"marker":"pJAK2","group":"LILRA6","log":5.30,"count":1.3},
            {"marker":"pJAK2","group":"LILRA6","log":5.35,"count":1.1},
            {"marker":"pJAK2","group":"LILRA6","log":5.40,"count":0},
            {"marker":"pJAK2","group":"LILRA6","log":5.42,"count":0},

            {"marker":"pSTAT1","group":"Mock control","gate":3.84,"level":7.4,"pct":"2.0%"},
            {"marker":"pSTAT1","group":"LILRA2","gate":3.85,"level":7.2,"pct":"41.2%"},
            {"marker":"pSTAT1","group":"LILRA6","gate":3.51,"level":7.8,"pct":"64.7%"},
            {"marker":"pSTAT3","group":"Mock control","gate":3.53,"level":7.5,"pct":"1.4%"},
            {"marker":"pSTAT3","group":"LILRA2","gate":3.52,"level":7.3,"pct":"57.9%"},
            {"marker":"pSTAT3","group":"LILRA6","gate":3.56,"level":7.4,"pct":"60.9%"},
            {"marker":"pJAK2","group":"Mock control","gate":3.84,"level":7.4,"pct":"1.1%"},
            {"marker":"pJAK2","group":"LILRA2","gate":3.85,"level":7.2,"pct":"22.6%"},
            {"marker":"pJAK2","group":"LILRA6","gate":3.86,"level":7.4,"pct":"31.4%"}
          ]},
          "facet": {
            "row": {"field": "marker", "type": "nominal", "sort": ["pSTAT1", "pSTAT3", "pJAK2"], "title": null, "header": {"labels": false, "title": null}},
            "column": {"field": "group", "type": "nominal", "sort": ["Mock control", "LILRA2", "LILRA6"], "title": null,
              "header": {"labelFont": "Liberation Sans", "labelFontSize": 26, "labelFontWeight": "bold", "labelColor": "black", "labelPadding": -18, "labelBaseline": "alphabetic", "title": null}}
          },
          "spec": {
            "width": 294,
            "height": 152,
            "resolve": {"scale": {"x": "independent"}},
            "layer": [
              {
                "transform": [{"filter": "isValid(datum.count)"}],
                "mark": {"type": "area", "interpolate": "step-after", "color": "#ff7272"},
                "encoding": {
                  "x": {
                    "field": "log", "type": "quantitative",
                    "scale": {"domain": [1.4, 5.42], "nice": false, "zero": false},
                    "axis": {
                      "orient": "bottom",
                      "values": [2, 3, 4, 5],
                      "labelExpr": "datum.value == 2 ? '10²' : datum.value == 3 ? '10³' : datum.value == 4 ? '10⁴' : '10⁵'",
                      "tickSize": 3.5, "tickColor": "#555", "labelFontSize": 7, "labelColor": "#555", "labelPadding": 2,
                      "labelFlush": false, "title": null
                    }
                  },
                  "y": {
                    "field": "count", "type": "quantitative",
                    "scale": {"nice": false, "zero": true},
                    "axis": {
                      "tickCount": 25, "labelExpr": "datum.value % 5 == 0 ? datum.label : ''",
                      "tickSize": 2, "tickColor": "#666", "labelFontSize": 5.5, "labelColor": "#555", "labelPadding": 1,
                      "labelOverlap": false, "labelSeparation": -100,
                      "title": ".", "titleColor": "transparent", "titleFontSize": 2, "titleX": -28, "titleY": 0
                    }
                  }
                }
              },
              {
                "transform": [{"filter": "isValid(datum.count)"}],
                "mark": {"type": "line", "interpolate": "step-after", "color": "#ff0000", "strokeWidth": 1},
                "encoding": {
                  "x": {
                    "field": "log", "type": "quantitative",
                    "scale": {"domain": [1.4, 5.42], "nice": false, "zero": false},
                    "axis": {
                      "orient": "bottom",
                      "values": [1.477, 1.602, 1.699, 1.778, 1.845, 1.903, 1.954, 2.301, 2.477, 2.602, 2.699, 2.778, 2.845, 2.903, 2.954, 3.301, 3.477, 3.602, 3.699, 3.778, 3.845, 3.903, 3.954, 4.301, 4.477, 4.602, 4.699, 4.778, 4.845, 4.903, 4.954, 5.301],
                      "labels": false, "tickSize": 2.5, "tickColor": "#555", "title": null
                    }
                  },
                  "y": {"field": "count", "type": "quantitative"}
                }
              },
              {
                "transform": [{"filter": "isValid(datum.gate)"}],
                "mark": {"type": "rule", "color": "#333333", "strokeWidth": 1.2},
                "encoding": {
                  "x": {"field": "gate", "type": "quantitative", "scale": {"domain": [1.4, 5.42], "nice": false, "zero": false}, "axis": null}
                }
              },
              {
                "transform": [{"filter": "isValid(datum.gate)"}],
                "mark": {"type": "rule", "color": "#333333", "strokeWidth": 1.2},
                "encoding": {
                  "x": {"field": "gate", "type": "quantitative", "scale": {"domain": [1.4, 5.42], "nice": false, "zero": false}, "axis": null},
                  "x2": {"datum": 5.42},
                  "y": {"field": "level", "type": "quantitative"}
                }
              },
              {
                "transform": [
                  {"joinaggregate": [{"op": "max", "field": "count", "as": "top"}], "groupby": ["marker", "group"]},
                  {"filter": "isValid(datum.pct)"}
                ],
                "mark": {"type": "text", "align": "right", "baseline": "top", "dy": 9, "font": "DejaVu Sans", "fontSize": 18, "fontWeight": "bold", "color": "#111111"},
                "encoding": {
                  "x": {"datum": 5.27, "type": "quantitative", "scale": {"domain": [1.4, 5.42], "nice": false, "zero": false}, "axis": null},
                  "y": {"field": "top", "type": "quantitative"},
                  "text": {"field": "pct", "type": "nominal"}
                }
              }
            ]
          },
          "resolve": {"scale": {"x": "independent", "y": "independent"}, "axis": {"x": "independent", "y": "independent"}}
        },
        {
          "width": 937,
          "height": 1,
          "view": {"stroke": null},
          "data": {"values": [{"v": 0.5}]},
          "layer": [
            {
              "mark": {"type": "point", "opacity": 0},
              "encoding": {
                "x": {
                  "field": "v", "type": "quantitative", "scale": {"domain": [0, 1], "nice": false},
                  "axis": {
                    "orient": "top", "domain": false,
                    "ticks": false, "labels": false, "grid": false,
                    "title": "Alexa Fluor® 488 fluorescence", "titleFont": "Liberation Serif", "titleFontSize": 26,
                    "titleFontWeight": "normal", "titleColor": "black", "titlePadding": 2, "titleX": 467
                  }
                }
              }
            },
            {
              "mark": {"type": "rule", "color": "black", "strokeWidth": 2, "clip": false},
              "encoding": {
                "x": {"datum": -0.031, "type": "quantitative"},
                "x2": {"datum": 1},
                "y": {"datum": 0, "type": "quantitative", "scale": {"domain": [0, 1]}, "axis": null}
              }
            }
          ]
        }
      ]
    }
  ]
}
